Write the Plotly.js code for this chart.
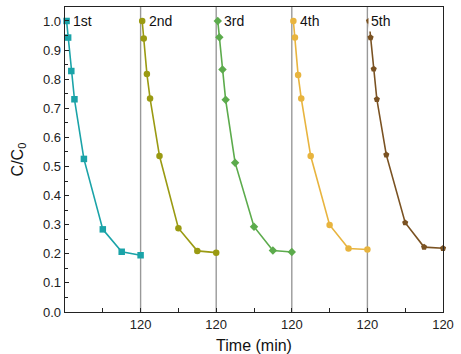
<!DOCTYPE html>
<html><head><meta charset="utf-8">
<script src="https://cdn.plot.ly/plotly-3.0.1.min.js"></script>
<style>html,body{margin:0;padding:0;background:#fff}#chart{width:461px;height:354px}</style>
</head><body><div id="chart"></div>
<script>
const cycleLength = 120;
const times = [2.5, 5, 10, 15, 30, 60, 90, 120];
const cycleLabels = ["1st", "2nd", "3rd", "4th", "5th"];
const cycle1 = [1.0, 0.943, 0.828, 0.731, 0.526, 0.284, 0.207, 0.195];
const cycle2 = [1.0, 0.940, 0.818, 0.734, 0.536, 0.288, 0.210, 0.204];
const cycle3 = [1.0, 0.944, 0.833, 0.729, 0.513, 0.293, 0.211, 0.206];
const cycle4 = [1.0, 0.943, 0.814, 0.734, 0.536, 0.299, 0.218, 0.215];
const cycle5 = [1.0, 0.943, 0.835, 0.731, 0.540, 0.307, 0.223, 0.219];
const xTickLabels = ["", "120", "", "120", "", "120", "", "120", "", "120"];

const series = [cycle1, cycle2, cycle3, cycle4, cycle5];
const colors = ["#1aa3a8", "#9a9a12", "#5cab4c", "#e8b43e", "#7a5222"];
const symbols = ["square", "circle", "diamond", "circle", "pentagon"];

const traces = series.map((vals, k) => ({
  x: times.map(t => t + k * cycleLength),
  y: vals,
  type: "scatter",
  mode: "lines+markers",
  line: {color: colors[k], width: 1.6},
  marker: {color: colors[k], symbol: symbols[k], size: 6.5},
  cliponaxis: false,
  showlegend: false
}));

const nCycles = series.length;
const tickvals = [];
for (let i = 1; i <= nCycles * 2; i++) tickvals.push(i * cycleLength / 2);

const shapes = [];
for (let k = 1; k < nCycles; k++) {
  shapes.push({type: "line", xref: "x", yref: "paper", x0: k * cycleLength, x1: k * cycleLength, y0: 0, y1: 1,
    line: {color: "#999999", width: 1.4}, layer: "below"});
}
const annoOffsets = [7, 7, 7, 7, 1];
const annotations = cycleLabels.map((lab, k) => ({
  x: k * cycleLength, y: 1.0, xref: "x", yref: "y", text: lab, showarrow: false,
  xanchor: "left", yanchor: "middle", xshift: annoOffsets[k],
  font: {family: "Liberation Sans, Arial, sans-serif", size: 14, color: "#111"},
  bgcolor: k === 4 ? "#ffffff" : "rgba(0,0,0,0)", borderpad: k === 4 ? 2 : 0
}));

const layout = {
  width: 461, height: 354,
  margin: {l: 65, r: 18, t: 7, b: 42},
  paper_bgcolor: "#fff", plot_bgcolor: "#fff",
  font: {family: "Liberation Sans, Arial, sans-serif", size: 13, color: "#222"},
  xaxis: {
    range: [0, nCycles * cycleLength], tickmode: "array", tickvals: tickvals, ticktext: xTickLabels,
    ticks: "inside", ticklen: 4, tickcolor: "#222", showgrid: false, zeroline: false,
    showline: true, linecolor: "#222", linewidth: 1.3, mirror: true,
    title: {text: "Time (min)", font: {size: 16, color: "#111"}, standoff: 10}
  },
  yaxis: {
    range: [0, 1.048], tickmode: "linear", tick0: 0, dtick: 0.1, tickformat: ".1f",
    ticks: "inside", ticklen: 4, tickcolor: "#222", showgrid: false, zeroline: false,
    showline: true, linecolor: "#222", linewidth: 1.3, mirror: true,
    minor: {dtick: 0.05, ticks: "inside", ticklen: 3, tickcolor: "#222"},
    title: {text: "C/C<sub>0</sub>", font: {size: 16, color: "#111"}, standoff: 15}
  },
  shapes: shapes,
  annotations: annotations
};
Plotly.newPlot("chart", traces, layout, {displayModeBar: false, staticPlot: true});
</script></body></html>
